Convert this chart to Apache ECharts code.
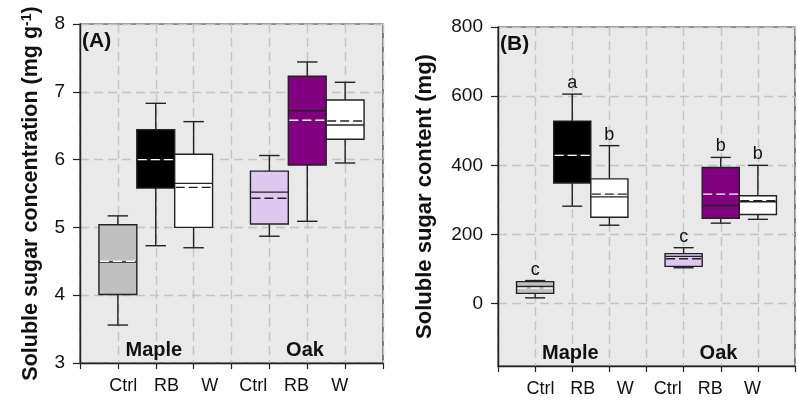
<!DOCTYPE html>
<html>
<head>
<meta charset="utf-8">
<script src="https://cdn.jsdelivr.net/npm/echarts@6/dist/echarts.min.js"></script>
<style>
  html, body { margin: 0; padding: 0; background: #fff; }
  #chart { width: 798px; height: 400px; }
</style>
</head>
<body>
<div id="chart"></div>
<script>
const treatments = ['Ctrl', 'RB', 'W', 'Ctrl', 'RB', 'W']
const treatmentX = [1, 2, 3, 5, 6, 7]
const species = ['Maple', 'Oak']

// (A) soluble sugar concentration, mg g-1
const concMin = [3.56, 4.73, 4.70, 4.87, 5.09, 5.95]
const concQ1 = [4.01, 5.58, 5.00, 5.05, 5.92, 6.30]
const concMedian = [4.49, 6.00, 5.65, 5.52, 6.72, 6.51]
const concQ3 = [5.04, 6.44, 6.08, 5.83, 7.23, 6.88]
const concMax = [5.17, 6.83, 6.56, 6.06, 7.44, 7.14]
const concMean = [4.50, 6.00, 5.59, 5.43, 6.58, 6.57]

// (B) soluble sugar content, mg
const contMin = [17, 282, 227, 104, 233, 244]
const contQ1 = [30, 349, 250, 108, 247, 258]
const contMedian = [50, 430, 309, 137, 284, 295]
const contQ3 = [64, 528, 361, 145, 394, 312]
const contMax = [67, 606, 457, 162, 423, 400]
const contMean = [45, 429, 317, 130, 317, 298]
const contLetters = ['c', 'a', 'b', 'c', 'b', 'b']

const yTicksB = [0, 200, 400, 600, 800]

const font = '"Liberation Sans", Arial, sans-serif'
const boxFill = ['#c0c0c0', '#000000', '#ffffff', '#dcc8f0', '#800080', '#ffffff']
const meanColor = ['#ffffff', '#ffffff', '#222222', '#222222', '#ffffff', '#222222']

function rows(mins, q1s, meds, q3s, maxs, means) {
  return treatmentX.map((x, i) => [x, mins[i], q1s[i], meds[i], q3s[i], maxs[i], means[i]])
}

function boxItem(letters) {
  return function(params, api) {
    const i = params.dataIndex
    const x = api.value(0)
    const w = api.size([1, 0])[0]
    const capHalf = w * 0.27
    const pMin = api.coord([x, api.value(1)])
    const pQ1 = api.coord([x, api.value(2)])
    const pMed = api.coord([x, api.value(3)])
    const pQ3 = api.coord([x, api.value(4)])
    const pMax = api.coord([x, api.value(5)])
    const pMean = api.coord([x, api.value(6)])
    const cx = pMin[0]
    const line = { stroke: '#222', lineWidth: 1.4 }
    const children = [
      { type: 'line', shape: { x1: cx, y1: pMax[1], x2: cx, y2: pQ3[1] }, style: line },
      { type: 'line', shape: { x1: cx, y1: pQ1[1], x2: cx, y2: pMin[1] }, style: line },
      { type: 'line', shape: { x1: cx - capHalf, y1: pMax[1], x2: cx + capHalf, y2: pMax[1] }, style: line },
      { type: 'line', shape: { x1: cx - capHalf, y1: pMin[1], x2: cx + capHalf, y2: pMin[1] }, style: line },
      {
        type: 'rect',
        shape: { x: cx - w / 2, y: pQ3[1], width: w, height: pQ1[1] - pQ3[1] },
        style: { fill: boxFill[i], stroke: '#222', lineWidth: 1.4 }
      },
      { type: 'line', shape: { x1: cx - w / 2, y1: pMed[1], x2: cx + w / 2, y2: pMed[1] }, style: line },
      {
        type: 'line',
        shape: { x1: cx - w / 2 + 1, y1: pMean[1], x2: cx + w / 2 - 1, y2: pMean[1] },
        style: { stroke: meanColor[i], lineWidth: 1.4, lineDash: [9, 4] }
      }
    ]
    if (letters) {
      children.push({
        type: 'text',
        style: {
          text: letters[i], x: cx, y: pMax[1] - 11, align: 'center', verticalAlign: 'middle',
          fontSize: 18, fontFamily: font, fill: '#111'
        }
      })
    }
    return { type: 'group', children }
  }
}

function speciesItem(params, api) {
  const p = api.coord([api.value(0), api.value(1)])
  return {
    type: 'text',
    style: {
      text: species[params.dataIndex], x: p[0], y: p[1], align: 'center', verticalAlign: 'middle',
      fontSize: 20, fontWeight: 'bold', fontFamily: font, fill: '#111'
    }
  }
}

function mainX(gridIndex) {
  return {
    type: 'value', gridIndex, min: 0, max: 8, interval: 1, position: 'bottom',
    axisLine: { show: true, onZero: false, lineStyle: { color: '#222', width: 1.4 } },
    axisTick: { show: true, inside: false, length: 6, lineStyle: { color: '#222', width: 1.2 } },
    axisLabel: { show: false },
    splitLine: { show: true, lineStyle: { color: '#c4c4c4', width: 1.4, type: [9, 5] } }
  }
}

function labelX(gridIndex) {
  return {
    type: 'value', gridIndex, min: 0, max: 7, interval: 1, position: 'bottom', offset: 0,
    axisLine: { show: false, onZero: false }, axisTick: { show: false }, splitLine: { show: false },
    axisLabel: {
      show: true, margin: 14, fontSize: 18, fontFamily: font, color: '#111',
      formatter: v => treatments[v - 1] || ''
    }
  }
}

const yCommon = {
  type: 'value',
  nameLocation: 'middle',
  axisLine: { show: true, lineStyle: { color: '#222', width: 1.4 } },
  axisTick: { show: true, inside: false, length: 7, lineStyle: { color: '#222', width: 1.2 } },
  axisLabel: { margin: 15, fontSize: 19, fontFamily: font, color: '#111' },
  splitLine: { show: true, lineStyle: { color: '#c4c4c4', width: 1.4, type: [9, 5] } }
}

const chart = echarts.init(document.getElementById('chart'), null, { renderer: 'canvas' })
chart.setOption({
  animation: false,
  backgroundColor: '#ffffff',
  title: [
    { text: '(A)', left: 82, top: 31, padding: 0, textStyle: { fontSize: 21, fontWeight: 'bold', fontFamily: font, color: '#111' } },
    { text: '(B)', left: 500, top: 34, padding: 0, textStyle: { fontSize: 21, fontWeight: 'bold', fontFamily: font, color: '#111' } }
  ],
  grid: [
    { left: 80, top: 24, right: 415, bottom: 37, show: true, backgroundColor: '#e9e9e9', borderColor: '#333', borderWidth: 1.2 },
    { left: 498, top: 27, right: -4, bottom: 34, show: true, backgroundColor: '#e9e9e9', borderColor: '#333', borderWidth: 1.2 }
  ],
  xAxis: [mainX(0), labelX(0), mainX(1), labelX(1)],
  yAxis: [
    Object.assign({}, yCommon, {
      gridIndex: 0, min: 3, max: 8, interval: 1,
      name: 'Soluble sugar concentration (mg g{sup|-1})',
      nameGap: 38,
      nameTextStyle: {
        fontSize: 21.5, fontWeight: 'bold', fontFamily: font, color: '#111', padding: [0, 0, 0, 0],
        rich: { sup: { fontSize: 14, fontWeight: 'bold', fontFamily: font, color: '#111', verticalAlign: 'top', padding: [0, 0, 8, 0] } }
      }
    }),
    Object.assign({}, yCommon, {
      gridIndex: 1, min: -180, max: 800,
      axisLabel: Object.assign({}, yCommon.axisLabel, { customValues: yTicksB }),
      axisTick: Object.assign({}, yCommon.axisTick, { customValues: yTicksB }),
      name: 'Soluble sugar content (mg)',
      nameGap: 62,
      nameTextStyle: { fontSize: 22, fontWeight: 'bold', fontFamily: font, color: '#111' }
    })
  ],
  series: [
    {
      type: 'custom', xAxisIndex: 0, yAxisIndex: 0,
      renderItem: boxItem(null),
      data: rows(concMin, concQ1, concMedian, concQ3, concMax, concMean)
    },
    {
      type: 'custom', xAxisIndex: 2, yAxisIndex: 1,
      renderItem: boxItem(contLetters),
      data: rows(contMin, contQ1, contMedian, contQ3, contMax, contMean)
    },
    {
      type: 'custom', xAxisIndex: 0, yAxisIndex: 0, renderItem: speciesItem,
      data: [[1.95, 3.19], [5.94, 3.19]]
    },
    {
      type: 'custom', xAxisIndex: 2, yAxisIndex: 1, renderItem: speciesItem,
      data: [[1.95, -145], [5.94, -145]]
    }
  ]
})
</script>
</body>
</html>
